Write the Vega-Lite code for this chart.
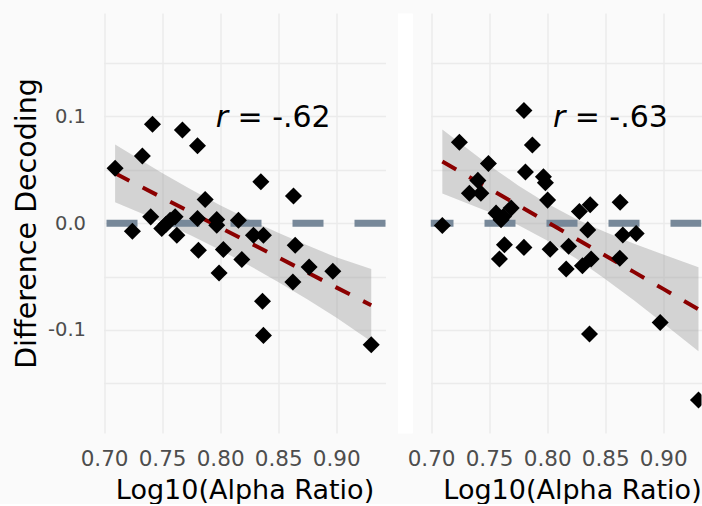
{
  "$schema": "https://vega.github.io/schema/vega-lite/v6.json",
  "background": "#fafafa",
  "padding": {"left": 11.5, "top": 13, "right": 0, "bottom": 0},
  "spacing": 15,
  "config": {
    "view": {"stroke": null},
    "font": "DejaVu Sans",
    "axis": {
      "grid": true,
      "gridColor": "#ebebeb",
      "gridWidth": 1.5,
      "domain": false,
      "ticks": false,
      "labelFont": "DejaVu Sans",
      "titleFont": "DejaVu Sans",
      "labelColor": "#4d4d4d",
      "titleColor": "#000000",
      "titleFontWeight": "normal",
      "labelFlush": false,
      "labelOverlap": false
    }
  },
  "datasets": {
    "ptsL": [
      {"x": 0.7095, "y": 0.0514}, {"x": 0.7244, "y": -0.0075}, {"x": 0.7330, "y": 0.0630},
      {"x": 0.7417, "y": 0.0927}, {"x": 0.7402, "y": 0.0059}, {"x": 0.7497, "y": -0.0050},
      {"x": 0.7569, "y": 0.0028}, {"x": 0.7612, "y": 0.0059}, {"x": 0.7627, "y": -0.0113},
      {"x": 0.7534, "y": -0.0010}, {"x": 0.7675, "y": 0.0873}, {"x": 0.7805, "y": 0.0726},
      {"x": 0.7871, "y": 0.0222}, {"x": 0.7805, "y": 0.0044}, {"x": 0.7813, "y": -0.0254},
      {"x": 0.7971, "y": 0.0035}, {"x": 0.7971, "y": -0.0019}, {"x": 0.7991, "y": -0.0467},
      {"x": 0.8028, "y": -0.0247}, {"x": 0.8158, "y": 0.0028}, {"x": 0.8187, "y": -0.0341},
      {"x": 0.8287, "y": -0.0113}, {"x": 0.8373, "y": -0.0113}, {"x": 0.8351, "y": 0.0388},
      {"x": 0.8365, "y": -0.0732}, {"x": 0.8373, "y": -0.1052}, {"x": 0.8632, "y": 0.0254},
      {"x": 0.8647, "y": -0.0207}, {"x": 0.8627, "y": -0.0551}, {"x": 0.8767, "y": -0.0410},
      {"x": 0.8971, "y": -0.0451}, {"x": 0.9302, "y": -0.1139}
    ],
    "bandL": [
      {"x": 0.7095, "lo": 0.0197, "fit": 0.0467, "hi": 0.0737},
      {"x": 0.75, "lo": 0.0010, "fit": 0.0240, "hi": 0.0470},
      {"x": 0.775, "lo": -0.0115, "fit": 0.0100, "hi": 0.0315},
      {"x": 0.80, "lo": -0.0251, "fit": -0.0041, "hi": 0.0169},
      {"x": 0.825, "lo": -0.0396, "fit": -0.0181, "hi": 0.0034},
      {"x": 0.85, "lo": -0.0551, "fit": -0.0321, "hi": -0.0091},
      {"x": 0.875, "lo": -0.0714, "fit": -0.0461, "hi": -0.0208},
      {"x": 0.90, "lo": -0.0884, "fit": -0.0602, "hi": -0.0320},
      {"x": 0.9302, "lo": -0.1110, "fit": -0.0770, "hi": -0.0430}
    ],
    "labL": [{"x": 0.8457, "y": 0.1, "r": "r", "rest": "= -.62"}],
    "ptsR": [
      {"x": 0.7097, "y": -0.0021}, {"x": 0.7244, "y": 0.0759}, {"x": 0.7330, "y": 0.0281},
      {"x": 0.7429, "y": 0.0281}, {"x": 0.7403, "y": 0.0401}, {"x": 0.7494, "y": 0.0559},
      {"x": 0.7560, "y": 0.0094}, {"x": 0.7623, "y": 0.0062}, {"x": 0.7690, "y": 0.0141},
      {"x": 0.7603, "y": 0.0031}, {"x": 0.7632, "y": -0.0203}, {"x": 0.7589, "y": -0.0335},
      {"x": 0.7800, "y": 0.1057}, {"x": 0.7813, "y": 0.0479}, {"x": 0.7873, "y": 0.0732},
      {"x": 0.7800, "y": -0.0227}, {"x": 0.7968, "y": 0.0434}, {"x": 0.7985, "y": 0.0378},
      {"x": 0.8004, "y": 0.0216}, {"x": 0.8026, "y": -0.0244}, {"x": 0.8185, "y": -0.0216},
      {"x": 0.8164, "y": -0.0430}, {"x": 0.8278, "y": 0.0109}, {"x": 0.8371, "y": 0.0172},
      {"x": 0.8350, "y": -0.0063}, {"x": 0.8304, "y": -0.0400}, {"x": 0.8379, "y": -0.0336},
      {"x": 0.8365, "y": -0.1040}, {"x": 0.8629, "y": 0.0195}, {"x": 0.8652, "y": -0.0110},
      {"x": 0.8767, "y": -0.0097}, {"x": 0.8626, "y": -0.0328}, {"x": 0.8974, "y": -0.0932},
      {"x": 0.9304, "y": -0.1657}
    ],
    "bandR": [
      {"x": 0.7097, "lo": 0.0277, "fit": 0.0577, "hi": 0.0877},
      {"x": 0.75, "lo": 0.0104, "fit": 0.0324, "hi": 0.0544},
      {"x": 0.775, "lo": -0.0018, "fit": 0.0168, "hi": 0.0354},
      {"x": 0.80, "lo": -0.0162, "fit": 0.0011, "hi": 0.0184},
      {"x": 0.825, "lo": -0.0332, "fit": -0.0146, "hi": 0.0040},
      {"x": 0.85, "lo": -0.0523, "fit": -0.0303, "hi": -0.0083},
      {"x": 0.875, "lo": -0.0726, "fit": -0.0459, "hi": -0.0192},
      {"x": 0.90, "lo": -0.0938, "fit": -0.0616, "hi": -0.0294},
      {"x": 0.9304, "lo": -0.1201, "fit": -0.0807, "hi": -0.0413}
    ],
    "labR": [{"x": 0.8545, "y": 0.1, "r": "r", "rest": "= -.63"}],
    "zero": [{"y": 0}]
  },
  "hconcat": [
    {
      "width": 282,
      "height": 420,
      "layer": [
        {
          "data": {"name": "bandL"},
          "mark": {"type": "area", "color": "#999999", "opacity": 0.4},
          "encoding": {
            "x": {"field": "x", "type": "quantitative", "title": "Log10(Alpha Ratio)",
              "scale": {"domain": [0.6995, 0.9425], "nice": false, "zero": false},
              "axis": {"values": [0.7, 0.725, 0.75, 0.775, 0.8, 0.825, 0.85, 0.875, 0.9, 0.925],
                "labelExpr": "round(datum.value*1000) % 50 == 0 ? format(datum.value, '.2f') : ''",
                "labelFontSize": 21.5, "labelPadding": 15, "titleFontSize": 27, "titlePadding": 8}},
            "y": {"field": "lo", "type": "quantitative", "title": "Difference Decoding",
              "scale": {"domain": [-0.1967, 0.197], "nice": false, "zero": false},
              "axis": {"values": [-0.15, -0.1, -0.05, 0, 0.05, 0.1, 0.15],
                "labelExpr": "datum.value == 0.1 ? '0.1' : datum.value == -0.1 ? '-0.1' : datum.value == 0 ? '0.0' : ''",
                "labelFontSize": 19.5, "labelPadding": 18, "titleFontSize": 28.5, "titlePadding": 6}},
            "y2": {"field": "hi"}
          }
        },
        {
          "data": {"name": "zero"},
          "mark": {"type": "rule", "color": "#778899", "strokeWidth": 7, "strokeDash": [31, 31]},
          "encoding": {"y": {"field": "y", "type": "quantitative", "title": "Difference Decoding"}}
        },
        {
          "data": {"name": "bandL"},
          "mark": {"type": "line", "color": "#8b0000", "strokeWidth": 4, "strokeDash": [16, 15]},
          "encoding": {
            "x": {"field": "x", "type": "quantitative", "title": "Log10(Alpha Ratio)"},
            "y": {"field": "fit", "type": "quantitative", "title": "Difference Decoding"}
          }
        },
        {
          "data": {"name": "ptsL"},
          "mark": {"type": "point", "shape": "diamond", "filled": true, "color": "#000000", "opacity": 1, "size": 290},
          "encoding": {
            "x": {"field": "x", "type": "quantitative", "title": "Log10(Alpha Ratio)"},
            "y": {"field": "y", "type": "quantitative", "title": "Difference Decoding"}
          }
        },
        {
          "data": {"name": "labL"},
          "mark": {"type": "text", "fontSize": 30, "fontStyle": "italic", "align": "left", "baseline": "alphabetic", "dx": -57.5, "dy": 11, "color": "#000000"},
          "encoding": {
            "x": {"field": "x", "type": "quantitative", "title": "Log10(Alpha Ratio)"},
            "y": {"field": "y", "type": "quantitative", "title": "Difference Decoding"},
            "text": {"field": "r"}
          }
        },
        {
          "data": {"name": "labL"},
          "mark": {"type": "text", "fontSize": 30, "align": "left", "baseline": "alphabetic", "dx": -35.7, "dy": 11, "color": "#000000"},
          "encoding": {
            "x": {"field": "x", "type": "quantitative", "title": "Log10(Alpha Ratio)"},
            "y": {"field": "y", "type": "quantitative", "title": "Difference Decoding"},
            "text": {"field": "rest"}
          }
        }
      ]
    },
    {
      "width": 271,
      "height": 420,
      "layer": [
        {
          "data": {"name": "bandR"},
          "mark": {"type": "area", "color": "#999999", "opacity": 0.4, "clip": true},
          "encoding": {
            "x": {"field": "x", "type": "quantitative", "title": "Log10(Alpha Ratio)",
              "scale": {"domain": [0.6995, 0.933], "nice": false, "zero": false},
              "axis": {"values": [0.7, 0.725, 0.75, 0.775, 0.8, 0.825, 0.85, 0.875, 0.9, 0.925],
                "labelExpr": "round(datum.value*1000) % 50 == 0 ? format(datum.value, '.2f') : ''",
                "labelFontSize": 21.5, "labelPadding": 15, "titleFontSize": 27, "titlePadding": 8, "titleX": 141.5}},
            "y": {"field": "lo", "type": "quantitative", "title": null,
              "scale": {"domain": [-0.1967, 0.197], "nice": false, "zero": false},
              "axis": {"values": [-0.15, -0.1, -0.05, 0, 0.05, 0.1, 0.15], "labels": false,
                "domain": true, "domainColor": "#ffffff", "domainWidth": 15, "offset": 25.6}},
            "y2": {"field": "hi"}
          }
        },
        {
          "data": {"name": "zero"},
          "mark": {"type": "rule", "color": "#778899", "strokeWidth": 7, "strokeDash": [31, 31], "clip": true},
          "encoding": {"y": {"field": "y", "type": "quantitative", "title": null}}
        },
        {
          "data": {"name": "bandR"},
          "mark": {"type": "line", "color": "#8b0000", "strokeWidth": 4, "strokeDash": [16, 15], "clip": true},
          "encoding": {
            "x": {"field": "x", "type": "quantitative", "title": "Log10(Alpha Ratio)"},
            "y": {"field": "fit", "type": "quantitative", "title": null}
          }
        },
        {
          "data": {"name": "ptsR"},
          "mark": {"type": "point", "shape": "diamond", "filled": true, "color": "#000000", "opacity": 1, "size": 290, "clip": true},
          "encoding": {
            "x": {"field": "x", "type": "quantitative", "title": "Log10(Alpha Ratio)"},
            "y": {"field": "y", "type": "quantitative", "title": null}
          }
        },
        {
          "data": {"name": "labR"},
          "mark": {"type": "text", "fontSize": 30, "fontStyle": "italic", "align": "left", "baseline": "alphabetic", "dx": -57.5, "dy": 11, "color": "#000000"},
          "encoding": {
            "x": {"field": "x", "type": "quantitative", "title": "Log10(Alpha Ratio)"},
            "y": {"field": "y", "type": "quantitative", "title": null},
            "text": {"field": "r"}
          }
        },
        {
          "data": {"name": "labR"},
          "mark": {"type": "text", "fontSize": 30, "align": "left", "baseline": "alphabetic", "dx": -35.7, "dy": 11, "color": "#000000"},
          "encoding": {
            "x": {"field": "x", "type": "quantitative", "title": "Log10(Alpha Ratio)"},
            "y": {"field": "y", "type": "quantitative", "title": null},
            "text": {"field": "rest"}
          }
        }
      ]
    }
  ]
}
